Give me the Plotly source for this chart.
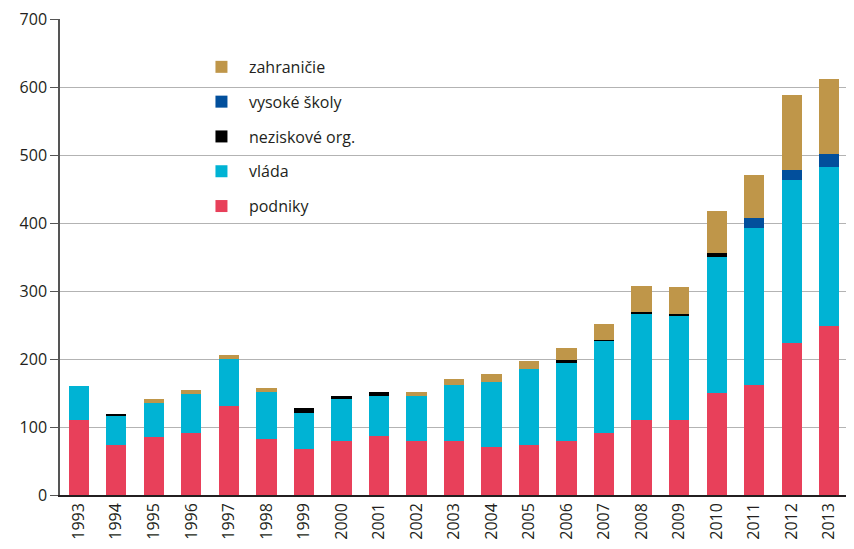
import plotly.graph_objects as go

years = [str(y) for y in range(1993, 2014)]
podniky = [110, 74, 86, 91, 131, 83, 67, 79, 87, 80, 80, 70, 74, 79, 91, 110, 110, 150, 162, 224, 248]
vlada = [50, 42, 49, 57, 69, 68, 54, 62, 58, 65, 82, 97, 112, 115, 136, 157, 153, 200, 231, 240, 234]
neziskove = [0, 3, 0, 0, 0, 0, 7, 4, 7, 0, 0, 0, 0, 4, 1, 3, 3.5, 6, 0, 0, 0]
vysoke = [0, 0, 0, 0, 0, 0, 0, 0, 0, 0, 0, 0, 0, 0, 0, 0, 0, 0, 14, 15, 19.5]
zahranicie = [0, 0, 7, 7, 6, 7, 0, 0, 0, 7, 9, 11, 11, 19, 24, 37, 39, 62, 64, 110, 111]
y_ticks = [0, 100, 200, 300, 400, 500, 600, 700]

series = [
    ("podniky", podniky, "#E8405A", 5),
    ("vláda", vlada, "#00B3D4", 4),
    ("neziskové org.", neziskove, "#000000", 3),
    ("vysoké školy", vysoke, "#024F9C", 2),
    ("zahraničie", zahranicie, "#BF9649", 1),
]

fig = go.Figure()
for name, vals, col, rank in series:
    fig.add_trace(go.Bar(x=years, y=vals, name=name, marker_color=col,
                         marker_line_width=0, legendgroup=name, legendrank=rank))

font = "Open Sans, sans-serif"
fig.update_layout(
    barmode="stack",
    bargap=0.46,
    width=846, height=541,
    margin=dict(l=52, r=6, t=11, b=54),
    plot_bgcolor="white", paper_bgcolor="white",
    font=dict(family=font, color="#231F20", size=16),
    showlegend=True,
    legend=dict(x=0.17, y=0.935, xanchor="left", yanchor="top",
                traceorder="grouped", tracegroupgap=11, itemwidth=45,
                font=dict(size=16, color="#231F20"),
                bgcolor="rgba(0,0,0,0)"),
    xaxis=dict(type="category", tickangle=-90, showgrid=False, automargin=False,
               showline=True, linecolor="#231F20", linewidth=1.5,
               ticks="", tickfont=dict(size=16, color="#231F20")),
    yaxis=dict(range=[0, 700.5], tickvals=y_ticks, showgrid=True, automargin=False,
               ticklabeloverflow="allow",
               gridcolor="#B3B3B3", gridwidth=1.2, zeroline=False,
               showline=True, linecolor="#555555", linewidth=1.5,
               ticks="outside", ticklen=8, tickcolor="#555555",
               tickfont=dict(size=16, color="#231F20")),
)

fig.write_html("out.html")
